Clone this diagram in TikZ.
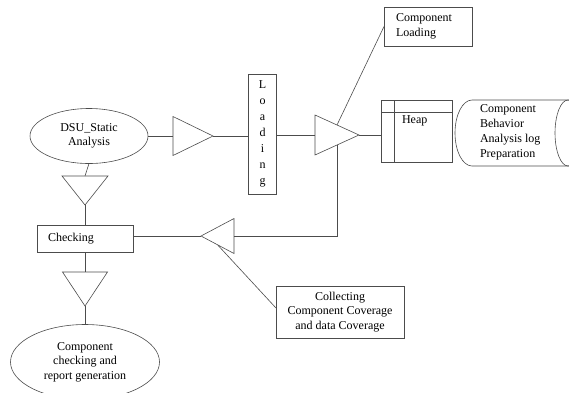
\documentclass[tikz,border=0pt]{standalone}
\usepackage{fontspec}
\setmainfont{Liberation Serif}
\usetikzlibrary{shapes.geometric}
\begin{document}
\begin{tikzpicture}[x=1pt,y=-1pt,font=\fontsize{12}{14.5}\selectfont,
        every node/.style={inner sep=0pt,outer sep=0pt},
        box/.style={draw=black!70,line width=0.6pt,rectangle},
        oval/.style={draw=black!70,line width=0.6pt,ellipse,align=center},
        tri/.style={draw=black!70,line width=0.6pt,isosceles triangle,isosceles triangle stretches,anchor=lower side},
        link/.style={draw=black!70,line width=0.6pt}]
        \clip (0,0) rectangle (569,392);
        \node[oval,minimum width=118,minimum height=55] (dsu) at (89,136) {DSU\_Static\\Analysis};
        \node[box,minimum width=28,minimum height=120,align=center,font=\fontsize{12}{16}\selectfont] (load) at (262.5,134) {L\\o\\a\\d\\i\\n\\g};
        \node[box,minimum width=88,minimum height=39,text width=64,inner xsep=12,align=left] (cload) at (428,26.5) {Component\\Loading};
        \node[box,minimum width=71,minimum height=62] (heap) at (416.5,131) {};
        \node[anchor=west] (heaplbl) at (402,121) {Heap};
        \node[anchor=west,align=left,font=\fontsize{12}{15}\selectfont] (logtxt) at (480,132.5) {Component\\Behavior\\Analysis log\\Preparation};
        \node[box,minimum width=96,minimum height=27,text width=74,inner xsep=11,align=left] (check) at (85,238.5) {Checking};
        \node[box,minimum width=128,minimum height=52,align=center] (coll) at (340,312) {Collecting\\Component Coverage\\and data Coverage};
        \node[oval,minimum width=149,minimum height=75] (rep) at (85,362) {Component\\checking and\\report generation};
        \node[tri,minimum width=39,minimum height=40] (t1) at (173,136) {};
        \node[tri,minimum width=40,minimum height=44] (t2) at (315,135) {};
        \node[tri,rotate=180,minimum width=35,minimum height=33] (t3) at (234,236) {};
        \node[tri,rotate=-90,minimum width=46,minimum height=29] (t4) at (85,176) {};
        \node[tri,rotate=-90,minimum width=45,minimum height=34] (t5) at (85,272) {};
        % heap and log store
        \draw[link] ([xshift=13]heap.north west) -- ([xshift=13]heap.south west);
        \draw[link] ([yshift=-12]heap.north west) -- ([yshift=-12]heap.north east);
        \draw[link] (590,100) -- (472,100) arc[start angle=90,end angle=270,x radius=17pt,y radius=33pt] -- (590,166);
        \draw[link] (568,133) ellipse[x radius=13pt,y radius=33pt];
        % connectors
        \draw[link] (dsu.east) -- (dsu.east -| t1.lower side);
        \draw[link] (t1.apex) -- (t1.apex -| load.west);
        \draw[link] (t2.lower side -| load.east) -- (t2.lower side);
        \draw[link] (t2.apex) -- (t2.apex -| heap.west);
        \draw[link] (t2.left side) -- (cload.west);
        \draw[link] (t2.right side) |- (t3.lower side);
        \draw[link] (t3.apex) -- (t3.apex -| check.east);
        \draw[link] (t3.left side) -- ([yshift=4]coll.west);
        \draw[link] (dsu.south) -- (t4.lower side);
        \draw[link] (t4.apex) -- (check.north);
        \draw[link] (check.south) -- (t5.lower side);
        \draw[link] (t5.apex) -- (rep.north);
\end{tikzpicture}
\end{document}
